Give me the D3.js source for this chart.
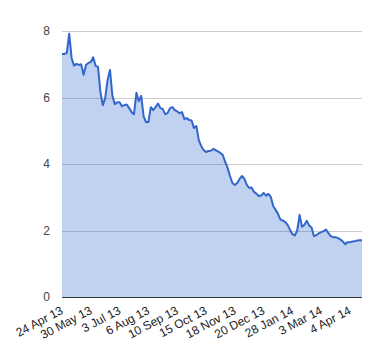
<!DOCTYPE html>
<html>
<head>
<meta charset="utf-8">
<script src="https://cdn.jsdelivr.net/npm/d3@7/dist/d3.min.js"></script>
<style>
  html, body { margin: 0; padding: 0; background: #fff; }
  svg { display: block; }
  text { font-family: Arial, "Liberation Sans", sans-serif; }
</style>
</head>
<body>
<div id="chart"></div>
<script>
// Values sampled every 2 trading days, starting 24 Apr 2013
const values = [
  7.31, 7.31, 7.34, 7.92, 7.19, 6.96, 7.01, 6.98, 7.00, 6.68,
  6.98, 7.04, 7.07, 7.21, 6.95, 6.92, 6.17, 5.77, 5.98, 6.53,
  6.83, 6.05, 5.80, 5.86, 5.86, 5.74, 5.77, 5.79, 5.68, 5.56,
  5.50, 6.14, 5.89, 6.05, 5.44, 5.26, 5.26, 5.71, 5.62, 5.71,
  5.82, 5.68, 5.65, 5.50, 5.53, 5.68, 5.71, 5.62, 5.58, 5.53,
  5.56, 5.35, 5.38, 5.32, 5.31, 5.08, 5.14, 4.72, 4.54, 4.42,
  4.36, 4.39, 4.40, 4.45, 4.42, 4.38, 4.33, 4.27, 4.06, 3.89,
  3.64, 3.43, 3.37, 3.43, 3.55, 3.64, 3.55, 3.37, 3.28, 3.29,
  3.16, 3.11, 3.04, 3.05, 3.13, 3.05, 3.10, 3.01, 2.74, 2.62,
  2.50, 2.33, 2.30, 2.26, 2.17, 2.02, 1.89, 1.85, 2.00, 2.47,
  2.11, 2.17, 2.29, 2.15, 2.08, 1.83, 1.86, 1.92, 1.95, 1.98,
  2.03, 1.92, 1.83, 1.80, 1.80, 1.77, 1.73, 1.67, 1.59, 1.65,
  1.65, 1.67, 1.68, 1.70, 1.71, 1.71
];
const stepDays = 2;
const tickLabels = ["24 Apr 13", "30 May 13", "3 Jul 13", "6 Aug 13", "10 Sep 13",
  "15 Oct 13", "18 Nov 13", "20 Dec 13", "28 Jan 14", "3 Mar 14", "4 Apr 14"];
const tickDays = [0, 24, 48, 72, 96, 120, 144, 168, 192, 216, 240];
const yTicks = [0, 2, 4, 6, 8];

const W = 380, H = 360;
const mLeft = 62, mRight = 362, mTop = 31, mBottom = 297;

const data = values.map((v, i) => ({ d: i * stepDays, v }));
const lastDay = (values.length - 1) * stepDays;

const x = d3.scaleLinear().domain([0, lastDay]).range([mLeft, mRight]);
const y = d3.scaleLinear().domain([0, 8]).range([mBottom, mTop]);

const svg = d3.select("#chart").append("svg").attr("width", W).attr("height", H);

// gridlines
svg.append("g").selectAll("line").data(yTicks.filter(t => t > 0)).join("line")
  .attr("x1", mLeft).attr("x2", mRight)
  .attr("y1", d => Math.round(y(d)) + 0.5).attr("y2", d => Math.round(y(d)) + 0.5)
  .attr("stroke", "#cccccc").attr("stroke-width", 1);

// area
const area = d3.area().x(d => x(d.d)).y0(y(0)).y1(d => y(d.v));
svg.append("path").datum(data).attr("d", area)
  .attr("fill", "#3366cc").attr("fill-opacity", 0.3);

// line
const line = d3.line().x(d => x(d.d)).y(d => y(d.v));
svg.append("path").datum(data).attr("d", line)
  .attr("fill", "none").attr("stroke", "#3366cc").attr("stroke-width", 2)
  .attr("stroke-linejoin", "round");

// baseline
svg.append("line")
  .attr("x1", mLeft).attr("x2", mRight)
  .attr("y1", Math.round(y(0)) + 0.5).attr("y2", Math.round(y(0)) + 0.5)
  .attr("stroke", "#333333").attr("stroke-width", 1);

// y labels
svg.append("g").selectAll("text").data(yTicks).join("text")
  .attr("x", 50).attr("y", d => y(d))
  .attr("dy", "0.36em")
  .attr("text-anchor", "end")
  .attr("font-size", 12).attr("fill", "#444444")
  .text(d => d);

// x labels
svg.append("g").selectAll("text").data(tickDays).join("text")
  .attr("transform", (d) => `translate(${x(d) + 2},${mBottom + 16}) rotate(-28)`)
  .attr("text-anchor", "end")
  .attr("font-size", 12).attr("fill", "#222222")
  .text((d, i) => tickLabels[i]);
</script>
</body>
</html>
